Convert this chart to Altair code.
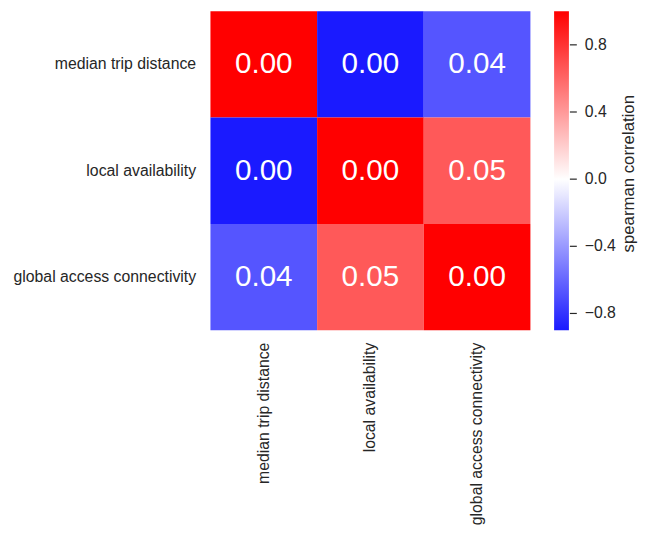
import altair as alt
import pandas as pd

labels = ["median trip distance", "local availability", "global access connectivity"]
corr = [
    [1.00, -0.90, -0.67],
    [-0.90, 1.00, 0.65],
    [-0.67, 0.65, 1.00],
]
pvals = [
    [0.00, 0.00, 0.04],
    [0.00, 0.00, 0.05],
    [0.04, 0.05, 0.00],
]
cbar_ticks = [-0.8, -0.4, 0.0, 0.4, 0.8]
cbar_domain = [-0.9, 1.0]
cbar_title = "spearman correlation"

rows = []
for i, r in enumerate(labels):
    for j, c in enumerate(labels):
        rows.append({"row": r, "col": c, "rho": corr[i][j], "p": f"{pvals[i][j]:.2f}"})
df = pd.DataFrame(rows)
tick_df = pd.DataFrame({"v": cbar_ticks})
title_df = pd.DataFrame({"t": [cbar_title]})

FONT = "Liberation Sans"
TXT = "#262626"
W, H = 324, 323

xenc = alt.X("col:N", sort=labels, title=None,
             axis=alt.Axis(labelAngle=-90, ticks=False, domain=False, labelPadding=12,
                           labelFontSize=16, labelFont=FONT, labelColor=TXT,
                           labelAlign="right", labelBaseline="middle", labelLimit=400))

heat = alt.Chart(df).mark_rect().encode(
    x=xenc,
    y=alt.Y("row:N", sort=labels, title=None,
            axis=alt.Axis(ticks=False, domain=False, labelPadding=15,
                          labelFontSize=16, labelFont=FONT, labelColor=TXT,
                          labelLimit=400)),
    color=alt.Color("rho:Q",
                    scale=alt.Scale(domain=[cbar_domain[0], 0, cbar_domain[1]],
                                    range=["#1a1aff", "#ffffff", "#ff0000"],
                                    interpolate="rgb"),
                    legend=alt.Legend(title=None, orient="right",
                                      gradientLength=H, gradientThickness=15,
                                      values=cbar_ticks,
                                      format=".1f",
                                      labelExpr="replace(datum.label, '-', '\u2212')",
                                      labelFontSize=16, labelFont=FONT, labelColor=TXT,
                                      offset=24, padding=0, labelOffset=16)),
)

text = alt.Chart(df).mark_text(fontSize=30, font=FONT, color="white").encode(
    x=xenc,
    y=alt.Y("row:N", sort=labels, title=None, axis=None),
    text="p:N",
)

ticks = alt.Chart(tick_df).mark_rule(color=TXT, strokeWidth=1.2).encode(
    x=alt.value(W + 24 + 16),
    x2=alt.value(W + 24 + 16 + 7),
    y=alt.Y("v:Q", scale=alt.Scale(domain=cbar_domain, nice=False, zero=False), axis=None),
)

ctitle = alt.Chart(title_df).mark_text(
    fontSize=17, font=FONT, color=TXT, angle=270, align="center", baseline="middle"
).encode(
    x=alt.value(W + 100),
    y=alt.value(H / 2 + 3),
    text="t:N",
)

chart = (
    alt.layer(heat, text, ticks, ctitle)
    .resolve_scale(y="independent")
    .properties(width=W, height=H, padding={"left": 5, "top": 0, "right": 5, "bottom": 5})
    .configure_view(strokeWidth=0)
)

chart.save("out.html", embed_options={"renderer": "svg", "actions": False})
